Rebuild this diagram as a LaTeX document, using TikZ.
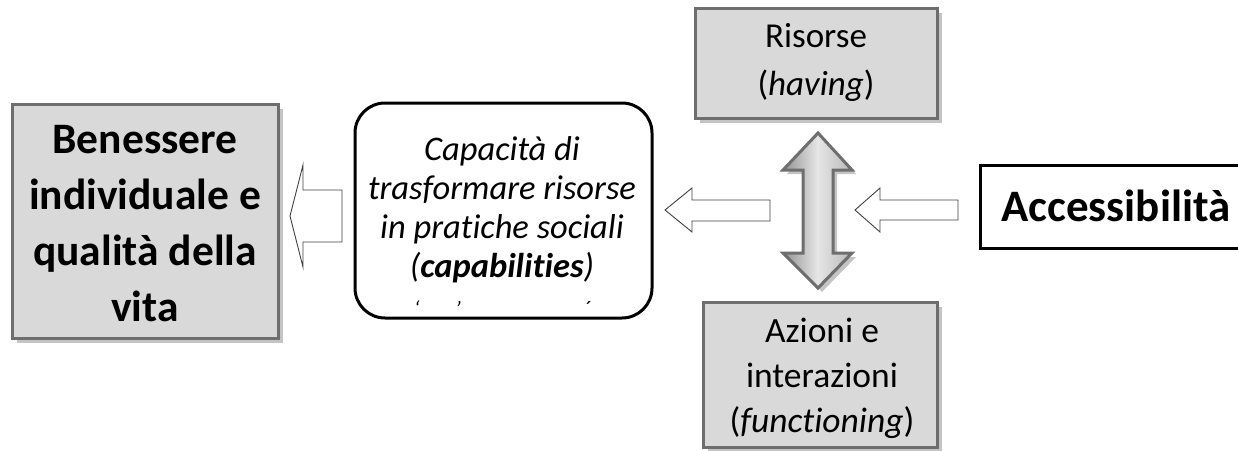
\documentclass[tikz,border=0pt]{standalone}
\usepackage{fontspec}
\setmainfont[RawFeature={-liga;-clig;-calt;-dlig}]{Carlito}
\usetikzlibrary{shadows}
\definecolor{boxfill}{HTML}{D9D9D9}
\definecolor{boxline}{HTML}{6E6E6E}
\definecolor{shadowc}{HTML}{C4C4C4}
\definecolor{arrline}{HTML}{404040}
\tikzset{
  graybox/.style={rectangle, fill=boxfill, draw=boxline, line width=3pt, inner sep=0pt,
    drop shadow={fill=shadowc, opacity=1, shadow xshift=5pt, shadow yshift=-5pt}},
  blackbox/.style={rectangle, fill=white, draw=black, line width=3pt, inner sep=0pt},
  hollowarrow/.style={draw=arrline, fill=white, line width=0.9pt, line join=miter},
  txt/.style={align=center, inner sep=0pt}
}
\begin{document}
\begin{tikzpicture}[x=1pt,y=-1pt]
\useasboundingbox (0,0) rectangle (1238,450);
% Benessere
\node[graybox, minimum width=266pt, minimum height=234pt] (ben) at (145,221) {};
\node[txt, font=\fontsize{43.5}{56}\selectfont\bfseries] (bentxt) at (145,224)
  {Benessere\\individuale e\\qualità della\\vita};
% Capabilities
\node[blackbox, rounded corners=30pt, minimum width=297pt, minimum height=215pt] (cap) at (503.5,210.5) {};
\node[txt, font=\fontsize{34.5}{39}\selectfont\itshape] (captxt) at (502,227)
  {Capacità di\\trasformare risorse\\in pratiche sociali\\(\textbf{capabilities})\\
   \makebox[176pt]{\fontsize{22}{22}\selectfont\char"60\hspace{36pt}\char"27\hfill\char"B4}};
% Risorse
\node[graybox, minimum width=242pt, minimum height=110pt] (ris) at (816,63) {};
\node[txt, font=\fontsize{35}{48}\selectfont] (ristxt) at (816,62) {Risorse\\(\textit{having})};
% Azioni
\node[graybox, minimum width=234pt, minimum height=145pt] (az) at (820,374.5) {};
\node[txt, font=\fontsize{35.5}{45}\selectfont] (aztxt) at (822,378) {Azioni e\\interazioni\\(\textit{functioning})};
% Accessibilita
\node[blackbox, minimum width=270pt, minimum height=83pt] (acc) at (1115,206.5) {};
\node[txt, font=\fontsize{45}{50}\selectfont\bfseries] (acctxt) at (1116,206) {Accessibilità};
% double arrow
\fill[shadowc] ([xshift=4pt,yshift=-4pt]818,133) -- ++(34,37) -- ++(-19,0) -- ++(0,83) -- ++(19,0) -- ++(-34,35)
  -- ++(-35,-35) -- ++(20,0) -- ++(0,-83) -- ++(-20,0) -- cycle;
\draw[draw=boxline, line width=3pt, line join=miter, left color=gray!85, right color=gray!55, middle color=gray!20, shading angle=90]
  (818,133) -- ++(34,37) -- ++(-19,0) -- ++(0,83) -- ++(19,0) -- ++(-34,35)
  -- ++(-35,-35) -- ++(20,0) -- ++(0,-83) -- ++(-20,0) -- cycle;
% hollow arrows
\draw[hollowarrow] (290,216) -- (303,165) -- (303,190) -- (342,190) -- (342,242) -- (303,242) -- (303,267) -- cycle;
\draw[hollowarrow] (665,210) -- (692,188) -- (692,200) -- (770,200) -- (770,221) -- (692,221) -- (692,232) -- cycle;
\draw[hollowarrow] (855,210) -- (880,188) -- (880,200) -- (958,200) -- (958,220) -- (880,220) -- (880,232) -- cycle;
\end{tikzpicture}
\end{document}
